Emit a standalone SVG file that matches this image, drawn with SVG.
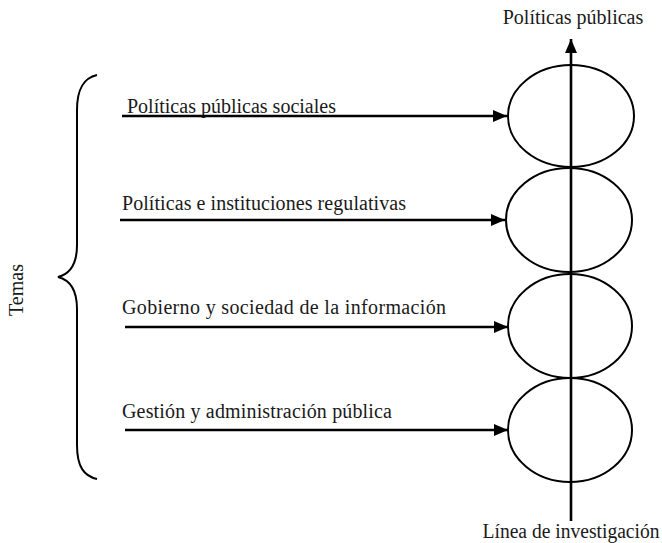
<svg xmlns="http://www.w3.org/2000/svg" width="662" height="543" viewBox="0 0 662 543">
<defs>
<style>
text{font-family:"Liberation Serif","Times New Roman",serif;font-size:20px;fill:#1a1a1a}
.e{fill:none;stroke:#000;stroke-width:2}
.a{fill:none;stroke:#000;stroke-width:2.6}
</style>
<marker id="ah" markerWidth="14" markerHeight="12" viewBox="0 0 14 12" refX="14" refY="6" orient="auto" markerUnits="userSpaceOnUse">
<path d="M0,0 L14,6 L0,12 Z" fill="#000"/>
</marker>
</defs>
<rect width="662" height="543" fill="#fff"/>
<g id="n1"><ellipse class="e" cx="571" cy="116" rx="63" ry="51"/></g>
<g id="n2"><ellipse class="e" cx="569" cy="220" rx="63" ry="52"/></g>
<g id="n3"><ellipse class="e" cx="570" cy="326" rx="62" ry="52"/></g>
<g id="n4"><ellipse class="e" cx="570" cy="430" rx="62" ry="52"/></g>
<g id="t1"><text x="127" y="113" textLength="209" lengthAdjust="spacing">Políticas públicas sociales</text></g>
<g id="t2"><text x="122" y="210" textLength="284" lengthAdjust="spacing">Políticas e instituciones regulativas</text></g>
<g id="t3"><text x="122" y="314" textLength="324" lengthAdjust="spacing">Gobierno y sociedad de la información</text></g>
<g id="t4"><text x="122" y="418" textLength="270" lengthAdjust="spacing">Gestión y administración pública</text></g>
<g id="top"><text x="573" y="24" text-anchor="middle">Políticas públicas</text></g>
<g id="bottom"><text x="571" y="538" text-anchor="middle" textLength="177" lengthAdjust="spacingAndGlyphs">Línea de investigación</text></g>
<g id="temas"><text transform="translate(23,290) rotate(-90)" text-anchor="middle">Temas</text>
<path class="e" d="M97,75 C84,78 77,88 77,110 L77,245 C77,265 70,274 58,277 C70,280 77,289 77,309 L77,445 C77,467 84,476 97,479"/></g>
<g id="connectors">
<line class="a" x1="122" y1="116" x2="507" y2="116" marker-end="url(#ah)"/>
<line class="a" x1="120" y1="220" x2="505" y2="220" marker-end="url(#ah)"/>
<line class="a" x1="125" y1="327" x2="508" y2="327" marker-end="url(#ah)"/>
<line class="a" x1="125" y1="430" x2="508" y2="430" marker-end="url(#ah)"/>
<line class="a" x1="571" y1="521" x2="571" y2="39" marker-end="url(#ah)"/>
</g>
</svg>
